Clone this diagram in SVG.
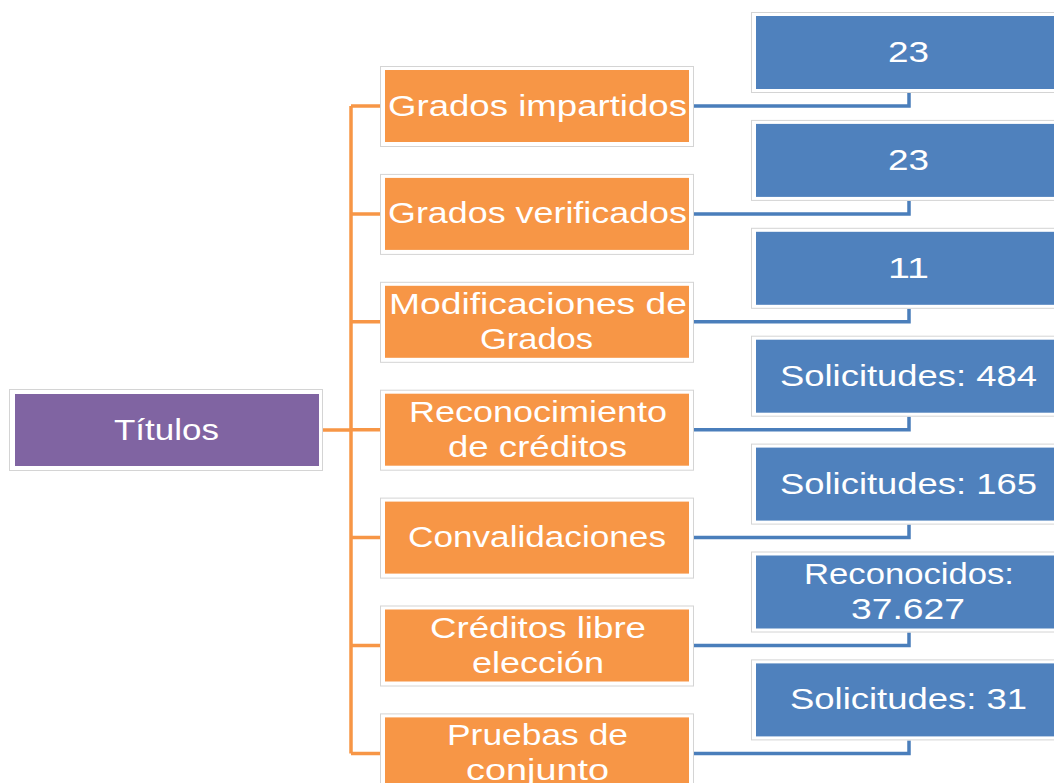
<svg xmlns="http://www.w3.org/2000/svg" width="1054" height="783" viewBox="0 0 1054 783">
<style>
.fr{fill:#ffffff;stroke:#d4d4d4;stroke-width:1}
.or{fill:#f79646}
.bl{fill:#4f81bd}
.pu{fill:#8064a2}
.t{font-family:"Liberation Sans",Arial,sans-serif;font-size:30px;fill:#ffffff;text-anchor:middle}
.oc{fill:none;stroke:#f79646;stroke-width:3.5}
.bc{fill:none;stroke:#4a7ebb;stroke-width:3.5}
</style>
<rect width="1054" height="783" fill="#ffffff"/>
<g id="connectors">
<path class="oc" d="M323 430 H351 M351 106 V753.4 M351 106 H385 M351 213.9 H385 M351 321.8 H385 M351 429.7 H385 M351 537.6 H385 M351 645.5 H385 M351 753.4 H385"/>
<path class="bc" d="M694 106 H909 V93 M694 213.9 H909 V200.9 M694 321.8 H909 V308.8 M694 429.7 H909 V416.7 M694 537.6 H909 V524.6 M694 645.5 H909 V632.5 M694 753.4 H909 V740.4"/>
</g>
<g id="titulos">
<rect class="fr" x="9.5" y="389.5" width="313" height="81"/>
<rect class="pu" x="15" y="394" width="304" height="72"/>
<text class="t" x="166.5" y="440" textLength="105" lengthAdjust="spacingAndGlyphs">Títulos</text>
</g>
<g id="grados-impartidos">
<rect class="fr" x="380.5" y="66.5" width="313" height="80"/>
<rect class="or" x="385" y="70" width="304" height="72"/>
<text class="t" x="537.5" y="115.5" textLength="299" lengthAdjust="spacingAndGlyphs">Grados impartidos</text>
</g>
<g id="grados-verificados">
<rect class="fr" x="380.5" y="174.4" width="313" height="80"/>
<rect class="or" x="385" y="177.9" width="304" height="72"/>
<text class="t" x="537.5" y="223.4" textLength="299" lengthAdjust="spacingAndGlyphs">Grados verificados</text>
</g>
<g id="modificaciones">
<rect class="fr" x="380.5" y="282.3" width="313" height="80"/>
<rect class="or" x="385" y="285.8" width="304" height="72"/>
<text class="t" x="538" y="313.8" textLength="298" lengthAdjust="spacingAndGlyphs">Modificaciones de</text>
<text class="t" x="536.5" y="348.8" textLength="113" lengthAdjust="spacingAndGlyphs">Grados</text>
</g>
<g id="reconocimiento">
<rect class="fr" x="380.5" y="390.2" width="313" height="80"/>
<rect class="or" x="385" y="393.7" width="304" height="72"/>
<text class="t" x="538" y="421.7" textLength="258" lengthAdjust="spacingAndGlyphs">Reconocimiento</text>
<text class="t" x="537.5" y="456.7" textLength="179" lengthAdjust="spacingAndGlyphs">de créditos</text>
</g>
<g id="convalidaciones">
<rect class="fr" x="380.5" y="498.1" width="313" height="80"/>
<rect class="or" x="385" y="501.6" width="304" height="72"/>
<text class="t" x="537" y="547.1" textLength="258" lengthAdjust="spacingAndGlyphs">Convalidaciones</text>
</g>
<g id="creditos-libre">
<rect class="fr" x="380.5" y="606" width="313" height="80"/>
<rect class="or" x="385" y="609.5" width="304" height="72"/>
<text class="t" x="538" y="637.5" textLength="216" lengthAdjust="spacingAndGlyphs">Créditos libre</text>
<text class="t" x="538" y="672.5" textLength="132" lengthAdjust="spacingAndGlyphs">elección</text>
</g>
<g id="pruebas">
<rect class="fr" x="380.5" y="713.9" width="313" height="80"/>
<rect class="or" x="385" y="717.4" width="304" height="72"/>
<text class="t" x="537.5" y="745.4" textLength="181" lengthAdjust="spacingAndGlyphs">Pruebas de</text>
<text class="t" x="537.5" y="780.4" textLength="143" lengthAdjust="spacingAndGlyphs">conjunto</text>
</g>
<g id="v1">
<rect class="fr" x="751.5" y="12.5" width="320" height="80"/>
<rect class="bl" x="756" y="16" width="310" height="73"/>
<text class="t" x="908.5" y="62" textLength="41" lengthAdjust="spacingAndGlyphs">23</text>
</g>
<g id="v2">
<rect class="fr" x="751.5" y="120.4" width="320" height="80"/>
<rect class="bl" x="756" y="123.9" width="310" height="73"/>
<text class="t" x="908.5" y="169.9" textLength="41" lengthAdjust="spacingAndGlyphs">23</text>
</g>
<g id="v3">
<rect class="fr" x="751.5" y="228.3" width="320" height="80"/>
<rect class="bl" x="756" y="231.8" width="310" height="73"/>
<text class="t" x="908.5" y="277.8" textLength="41" lengthAdjust="spacingAndGlyphs">11</text>
</g>
<g id="v4">
<rect class="fr" x="751.5" y="336.2" width="320" height="80"/>
<rect class="bl" x="756" y="339.7" width="310" height="73"/>
<text class="t" x="908.5" y="385.7" textLength="257" lengthAdjust="spacingAndGlyphs">Solicitudes: 484</text>
</g>
<g id="v5">
<rect class="fr" x="751.5" y="444.1" width="320" height="80"/>
<rect class="bl" x="756" y="447.6" width="310" height="73"/>
<text class="t" x="908.5" y="493.6" textLength="257" lengthAdjust="spacingAndGlyphs">Solicitudes: 165</text>
</g>
<g id="v6">
<rect class="fr" x="751.5" y="552" width="320" height="80"/>
<rect class="bl" x="756" y="555.5" width="310" height="73"/>
<text class="t" x="909" y="583.5" textLength="210" lengthAdjust="spacingAndGlyphs">Reconocidos:</text>
<text class="t" x="908" y="618.5" textLength="114" lengthAdjust="spacingAndGlyphs">37.627</text>
</g>
<g id="v7">
<rect class="fr" x="751.5" y="659.9" width="320" height="80"/>
<rect class="bl" x="756" y="663.4" width="310" height="73"/>
<text class="t" x="908.5" y="709.4" textLength="237" lengthAdjust="spacingAndGlyphs">Solicitudes: 31</text>
</g>
</svg>
